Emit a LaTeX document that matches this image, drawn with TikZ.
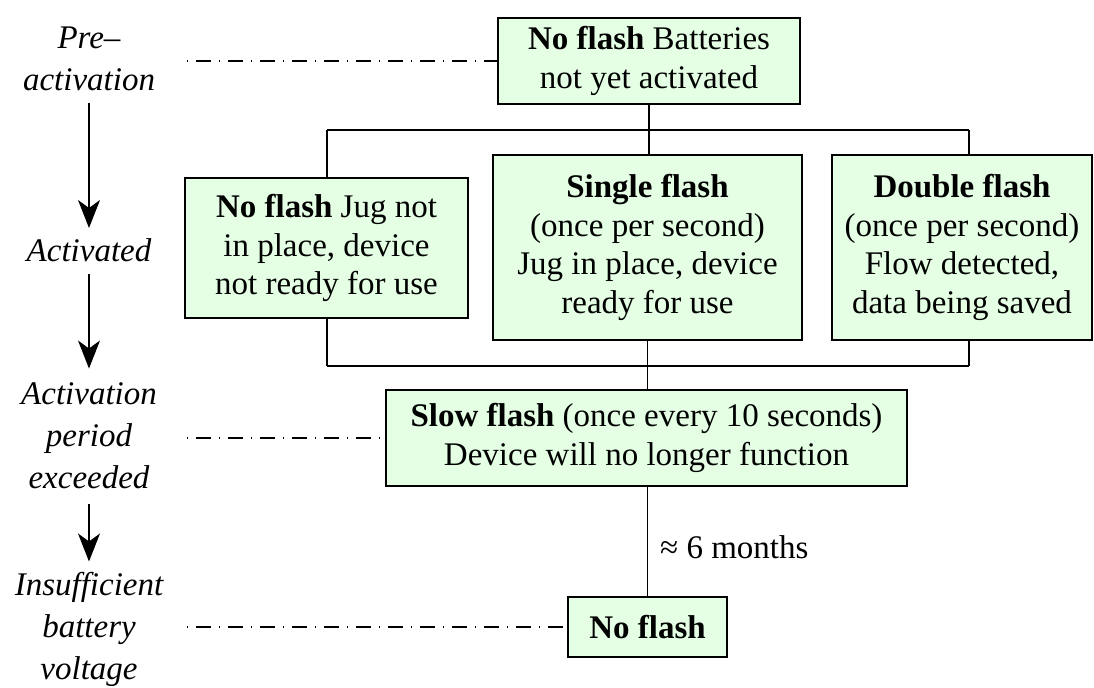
\documentclass[tikz,border=0pt]{standalone}
\usepackage{fontspec}
\setmainfont{LiberationSerif}[Extension=.ttf,UprightFont=*-Regular,BoldFont=*-Bold,ItalicFont=*-Italic,BoldItalicFont=*-BoldItalic]
\usetikzlibrary{arrows.meta}
\definecolor{boxfill}{RGB}{229,255,229}
\begin{document}
\begin{tikzpicture}[x=0.5pt,y=-0.5pt,
  box/.style={draw,line width=1pt,fill=boxfill,inner sep=0pt,align=center,
    font=\fontsize{16.5}{19.3}\selectfont},
  lab/.style={align=center,inner sep=0pt,font=\fontsize{16.5}{21}\selectfont\itshape},
  conn/.style={line width=0.7pt},
  dd/.style={line width=0.7pt,dash pattern=on 0.5pt off 4pt on 7.5pt off 4pt},
  tl/.style={-{Stealth[length=14pt,width=11pt,inset=4pt]},line width=0.6pt}]
\useasboundingbox (0,0) rectangle (1094,687);

% boxes
\node[box,minimum width=151pt,minimum height=43pt] (top) at (649,61)
  {\textbf{No flash} Batteries\\not yet activated};
\node[box,minimum width=141.5pt,minimum height=70pt] (left) at (326.5,248)
  {\textbf{No flash} Jug not\\in place, device\\not ready for use};
\node[box,minimum width=154.5pt,minimum height=92.5pt] (mid) at (647.5,247.5)
  {\textbf{Single flash}\\(once per second)\\Jug in place, device\\ready for use};
\node[box,minimum width=130pt,minimum height=92.5pt] (right) at (962,247.5)
  {\textbf{Double flash}\\(once per second)\\Flow detected,\\data being saved};
\node[box,minimum width=260.5pt,minimum height=48pt] (slow) at (646.5,438)
  {\textbf{Slow flash} (once every 10 seconds)\\Device will no longer function};
\node[box,minimum width=79.5pt,minimum height=30pt] (nof) at (647.5,627)
  {\textbf{No flash}};

% tree connectors
\coordinate (t1) at (327,130);
\coordinate (t2) at (969,130);
\coordinate (b1) at (327,366);
\coordinate (b2) at (969,366);
\draw[conn] (top.south) -- (top.south |- t1);
\draw[conn] (t1) -- (t2);
\draw[conn] (t1) -- (t1 |- left.north);
\draw[conn] (top.south |- t1) -- (top.south |- mid.north);
\draw[conn] (t2) -- (t2 |- right.north);
\draw[conn] (t1 |- left.south) -- (b1);
\draw[conn] (b1) -- (b2);
\draw[conn] (t2 |- right.south) -- (b2);
\draw[conn] (mid.south) -- (mid.south |- slow.north);
\draw[conn] (mid.south |- slow.south) -- node[pos=0.55,anchor=west,inner sep=0pt,xshift=6pt,
  font=\fontsize{16.5}{19.3}\selectfont] (mo) {≈ 6 months} (mid.south |- nof.north);

% stage labels
\node[lab] (pre) at (89,59) {Pre–\\activation};
\node[lab] (act) at (89,250) {Activated};
\node[lab] (exc) at (89,436) {Activation\\period\\exceeded};
\node[lab] (ins) at (89,629) {Insufficient\\battery\\voltage};

\draw[tl] ([yshift=-6pt]pre.south) -- ([yshift=5pt]act.north);
\draw[tl] ([yshift=-6pt]act.south) -- ([yshift=7pt]exc.north);
\draw[tl] ([yshift=-7pt]exc.south) -- ([yshift=5pt]ins.north);

% dash-dot guides
\coordinate (d1) at (187,61);
\coordinate (d2) at (187,438);
\coordinate (d3) at (187,627);
\draw[dd] (d1) -- (d1 -| top.west);
\draw[dd] (d2) -- (d2 -| slow.west);
\draw[dd] (d3) -- (d3 -| nof.west);
\end{tikzpicture}
\end{document}
